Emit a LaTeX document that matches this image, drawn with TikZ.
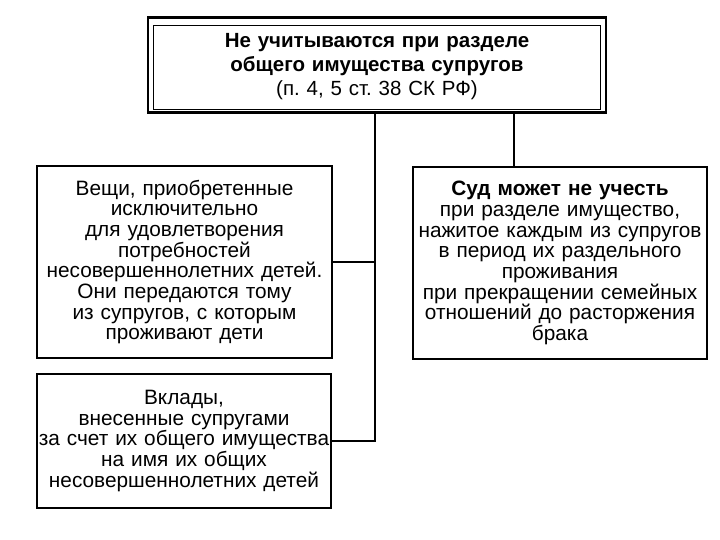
\documentclass[tikz,border=0pt]{standalone}
\usepackage{fontspec}
\setmainfont{Liberation Sans}
\usepackage{tikz}
\usetikzlibrary{positioning}
\tikzset{
  box/.style={
    rectangle, draw, line width=1.3pt,
    text width=#1, align=center, inner sep=0pt,
    font=\fontsize{20.8}{20.7}\selectfont
  },
  box/.default=292pt,
  link/.style={line width=1.6pt},
}
\frenchspacing

\begin{document}
\begin{tikzpicture}[x=1pt, y=-1pt]
\useasboundingbox (0,0) rectangle (720,540);

% Heading
\node[box=440pt, minimum width=447pt, minimum height=84pt, line width=0.9pt,
      font=\fontsize{20.5}{24}\selectfont] at (377,67) (head) {
  \textbf{Не учитываются при разделе}\\
  \textbf{общего имущества супругов}\\
  (п. 4, 5 ст. 38 СК РФ)
};
\draw[line width=2.6pt] ([shift={(-5pt,7pt)}]head.north west) rectangle ([shift={(5pt,-3pt)}]head.south east);

% Left column
\node[box, minimum width=295pt, minimum height=192pt] at (184.5,262) (things) {
  Вещи, приобретенные\\
  исключительно\\
  для удовлетворения\\
  потребностей\\
  несовершеннолетних детей.\\
  Они передаются тому\\
  из супругов, с которым\\
  проживают дети
};

\node[box, minimum width=294pt, minimum height=134pt] at (184,441) (deposits) {
  Вклады,\\
  внесенные супругами\\
  за счет их общего имущества\\
  на имя их общих\\
  несовершеннолетних детей
};

% Right column
\node[box, minimum width=294pt, minimum height=192pt] at (560,263) (court) {
  \textbf{Суд может не учесть}\\
  при разделе имущество,\\
  нажитое каждым из супругов\\
  в период их раздельного\\
  проживания\\
  при прекращении семейных\\
  отношений до расторжения\\
  брака
};

% Links
\coordinate (spine) at (375,0);
\coordinate (drop) at (514,0);
\draw[link] ([yshift=-3pt]head.south -| spine) |- (deposits.east);
\draw[link] (things.east) -- (things.east -| spine);
\draw[link] ([yshift=-3pt]head.south -| drop) -- (court.north -| drop);

\end{tikzpicture}
\end{document}
